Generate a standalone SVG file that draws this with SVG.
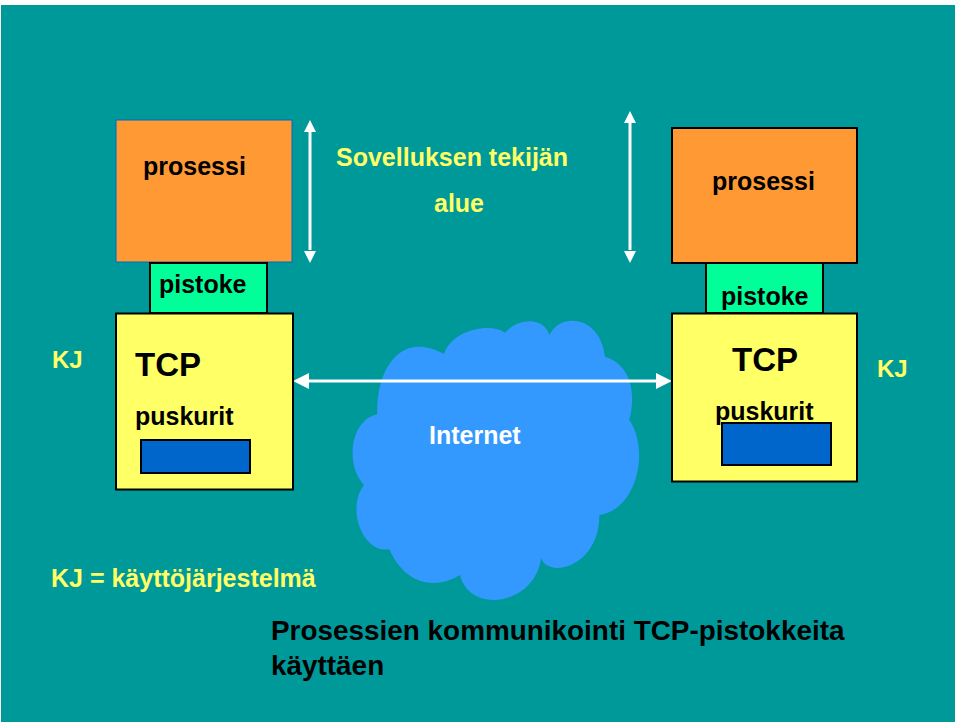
<svg xmlns="http://www.w3.org/2000/svg" width="960" height="723" viewBox="0 0 960 723">
<style>
text{font-family:"Liberation Sans",Arial,sans-serif;font-weight:bold;fill:#000}
.y{fill:#ffff66}
.w{fill:#fff}
.l{font-size:25px}
.k{font-size:24px}
.t{font-size:33px}
.b{font-size:27.900px}
.box{stroke:#000;stroke-width:2}
.c{stroke:#fff;stroke-width:3;fill:none}
.h{fill:#fff}
</style>
<rect width="960" height="723" fill="#fff"/>
<rect x="1" y="5" width="954" height="717" fill="#009999"/>
<g id="cloud">
<path fill="#3399ff" d="M377.3 414.3C376 370 400 330 444 354C452 330 490 322 505 332.700C520 316 545 318 549.300 335.300C560 312 600 315 605 356.700C632 365 636 395 629.300 420C650 450 637 510 599.300 515C600 565 550 580 541 558.300C535 605 470 615 460 575C435 590 405 585 389.300 549C365 555 345 510 364 485C345 465 350 420 377.300 414.300Z"/>
<text class="l w" x="429" y="444">Internet</text>
</g>
<g id="connectors">
<path class="c" d="M310 128V250M630 120V250M309 381H658"/>
<path class="h" d="M310 120l-6 12h12zM310 263l-6-12h12zM630 111l-6 12h12zM630 263l-6-12h12zM293 381l16-8v16zM672 381l-16-8v16z"/>
</g>
<g id="process-left">
<rect x="116" y="120" width="176" height="142" fill="#ff9933" stroke="#0066cc" stroke-width="1"/>
<text class="l" x="143" y="175">prosessi</text>
</g>
<g id="socket-left">
<rect class="box" x="150" y="263" width="117" height="50" fill="#00ff99"/>
<text class="l" x="159" y="293">pistoke</text>
</g>
<g id="tcp-left">
<rect class="box" x="116" y="313.500" width="177" height="176" fill="#ffff66"/>
<text class="t" x="135" y="376">TCP</text>
<text class="l" x="135" y="425">puskurit</text>
<rect class="box" x="141" y="440" width="109" height="33" fill="#0066cc"/>
</g>
<g id="process-right">
<rect class="box" x="672" y="128" width="185" height="135" fill="#ff9933"/>
<text class="l" x="712" y="190">prosessi</text>
</g>
<g id="socket-right">
<rect class="box" x="706" y="263" width="117" height="50" fill="#00ff99"/>
<text class="l" x="721" y="305">pistoke</text>
</g>
<g id="tcp-right">
<rect class="box" x="672" y="313.500" width="185" height="168" fill="#ffff66"/>
<text class="t" x="732" y="371">TCP</text>
<text class="l" x="715" y="420">puskurit</text>
<rect class="box" x="722" y="423" width="109" height="42" fill="#0066cc"/>
</g>
<g id="labels">
<text class="k y" x="52" y="368">KJ</text>
<text class="k y" x="877" y="377">KJ</text>
<text class="l y" x="336" y="166">Sovelluksen tekijän</text>
<text class="l y" x="434" y="212">alue</text>
<text class="l y" x="51" y="587">KJ = käyttöjärjestelmä</text>
<text class="b" x="271" y="640">Prosessien kommunikointi TCP-pistokkeita</text>
<text class="b" x="271" y="675">käyttäen</text>
</g>
</svg>
